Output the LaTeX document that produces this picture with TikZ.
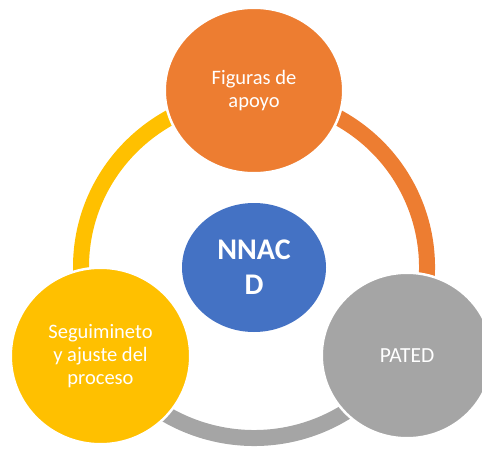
\documentclass[tikz,border=0pt]{standalone}
\usepackage{fontspec}
\setmainfont{Carlito}
\usetikzlibrary{shapes.geometric}
\definecolor{offorange}{HTML}{ED7D31}
\definecolor{offblue}{HTML}{4472C4}
\definecolor{offgray}{HTML}{A5A5A5}
\definecolor{offyellow}{HTML}{FFC000}
\begin{document}
\begin{tikzpicture}[x=1pt,y=1pt,
  bubble/.style={ellipse, draw=white, line width=2.5pt, inner sep=0pt, text=white, align=center, font=\fontsize{20.5}{23}\selectfont},
  ringarc/.style={line width=16pt}
]
\useasboundingbox (0,0) rectangle (482,448);
\clip (0,0) rectangle (482,448);
\coordinate (ctr) at (254,181);
% ring segments
\draw[ringarc, offyellow] (ctr) ++(90:173 and 171) arc[start angle=90, end angle=210, x radius=173, y radius=171];
\draw[ringarc, offorange] (ctr) ++(-30:173 and 171) arc[start angle=-30, end angle=90, x radius=173, y radius=171];
\draw[ringarc, offgray] (ctr) ++(210:173 and 171) arc[start angle=210, end angle=330, x radius=173, y radius=171];
% circles
\node[bubble, fill=offorange, minimum width=178.5pt, minimum height=165.5pt] (top) at (254,357.5) {Figuras de\\apoyo};
\node[bubble, fill=offyellow, minimum width=179.5pt, minimum height=176.5pt] (left) at (100.5,92) {Seguimineto\\y ajuste del\\proceso};
\node[bubble, fill=offgray, minimum width=170.5pt, minimum height=165.5pt, font=\fontsize{21.5}{24}\selectfont] (right) at (407,92.5) {PATED};
\node[bubble, draw=none, fill=offblue, minimum width=144pt, minimum height=129pt, font=\fontsize{30}{35}\selectfont\bfseries] (mid) at (254,180.5) {NNAC\\D};
\end{tikzpicture}
\end{document}
